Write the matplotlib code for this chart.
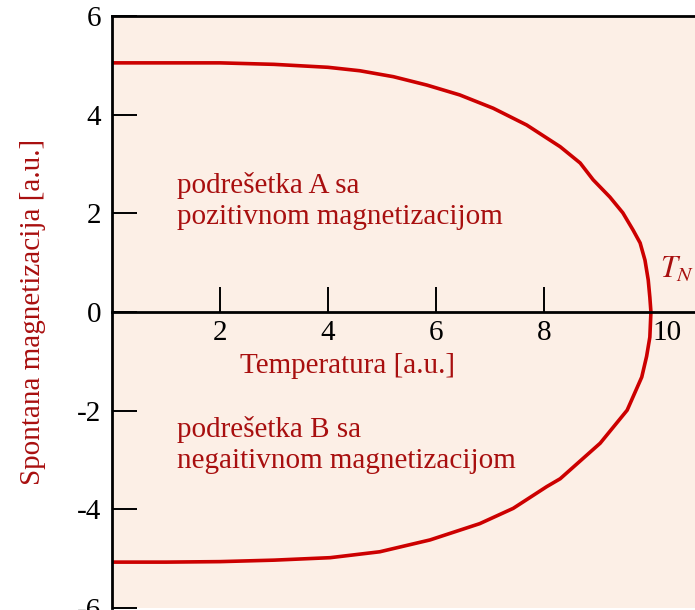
import matplotlib
matplotlib.use('Agg')
import matplotlib.pyplot as plt

# (sublattice magnetization vs temperature)
temp_upper = [0.0, 1.0, 2.0, 3.0, 4.0, 4.59, 5.21, 5.83, 6.44, 7.06, 7.68, 8.30, 8.67, 8.91,
              9.22, 9.46, 9.65, 9.78, 9.87, 9.93, 9.96, 9.98]
mag_upper = [5.05, 5.05, 5.05, 5.02, 4.96, 4.89, 4.77, 4.60, 4.40, 4.13, 3.79, 3.35, 3.02, 2.68,
             2.33, 2.01, 1.66, 1.40, 1.05, 0.65, 0.30, 0.0]
temp_lower = [9.98, 9.96, 9.90, 9.81, 9.54, 9.04, 8.30, 8.05, 7.43, 6.81, 5.89, 4.96, 4.04,
              3.0, 2.0, 1.0, 0.0]
mag_lower = [0.0, -0.51, -0.90, -1.32, -1.99, -2.66, -3.38, -3.54, -3.98, -4.29, -4.62, -4.86, -4.98,
             -5.03, -5.06, -5.07, -5.07]

x_ticks = [2, 4, 6, 8]
y_ticks = [-6, -4, -2, 0, 2, 4, 6]

plt.rcParams['font.family'] = 'Liberation Serif'
plt.rcParams['mathtext.fontset'] = 'stix'
plt.rcParams['axes.unicode_minus'] = False

txt_red = '#a80f0f'
line_red = '#cc0000'
fs = 21

fig = plt.figure(figsize=(6.95, 6.10), dpi=100)
ax = fig.add_axes([112 / 695, 2 / 610, 1 - 112 / 695, 592 / 610])
ax.set_facecolor('#fcefe6')

ax.plot(temp_upper + temp_lower, mag_upper + mag_lower, color=line_red, linewidth=2.6,
        solid_joinstyle='round')

ax.set_xlim(0, 583 / 54)
ax.set_ylim(-6, 6)

# spines: left and top as frame, bottom moved to zero
ax.spines['right'].set_visible(False)
ax.spines['bottom'].set_position(('data', 0))
for s in ['left', 'top', 'bottom']:
    ax.spines[s].set_linewidth(2.0)
    ax.spines[s].set_zorder(3)

ax.set_xticks(x_ticks)
ax.set_xticklabels([str(v) for v in x_ticks])
ax.set_yticks(y_ticks)
ax.set_yticklabels([str(v) for v in y_ticks])
ax.tick_params(axis='x', direction='in', length=18, width=1.4, pad=6, labelsize=fs)
ax.tick_params(axis='y', direction='in', length=18, width=1.4, pad=8, labelsize=fs)

ax.text(10.28, -0.16, '10', fontsize=fs, ha='center', va='top')

ax.text(4.37, -1.10, 'Temperatura [a.u.]', fontsize=fs, color=txt_red, ha='center', va='center')
ax.set_ylabel('Spontana magnetizacija [a.u.]', fontsize=fs, color=txt_red)
ax.yaxis.set_label_coords(-0.113, 0.5)

ax.text(1.2, 2.26, 'podrešetka A sa\npozitivnom magnetizacijom', fontsize=fs,
        color=txt_red, ha='left', va='center', linespacing=1.25)
ax.text(1.2, -2.70, 'podrešetka B sa\nnegaitivnom magnetizacijom', fontsize=fs,
        color=txt_red, ha='left', va='center', linespacing=1.25)
ax.text(10.15, 0.85, r'$T_N$', fontsize=22, color=txt_red, ha='left', va='center')

plt.savefig('out.png', dpi=100)
